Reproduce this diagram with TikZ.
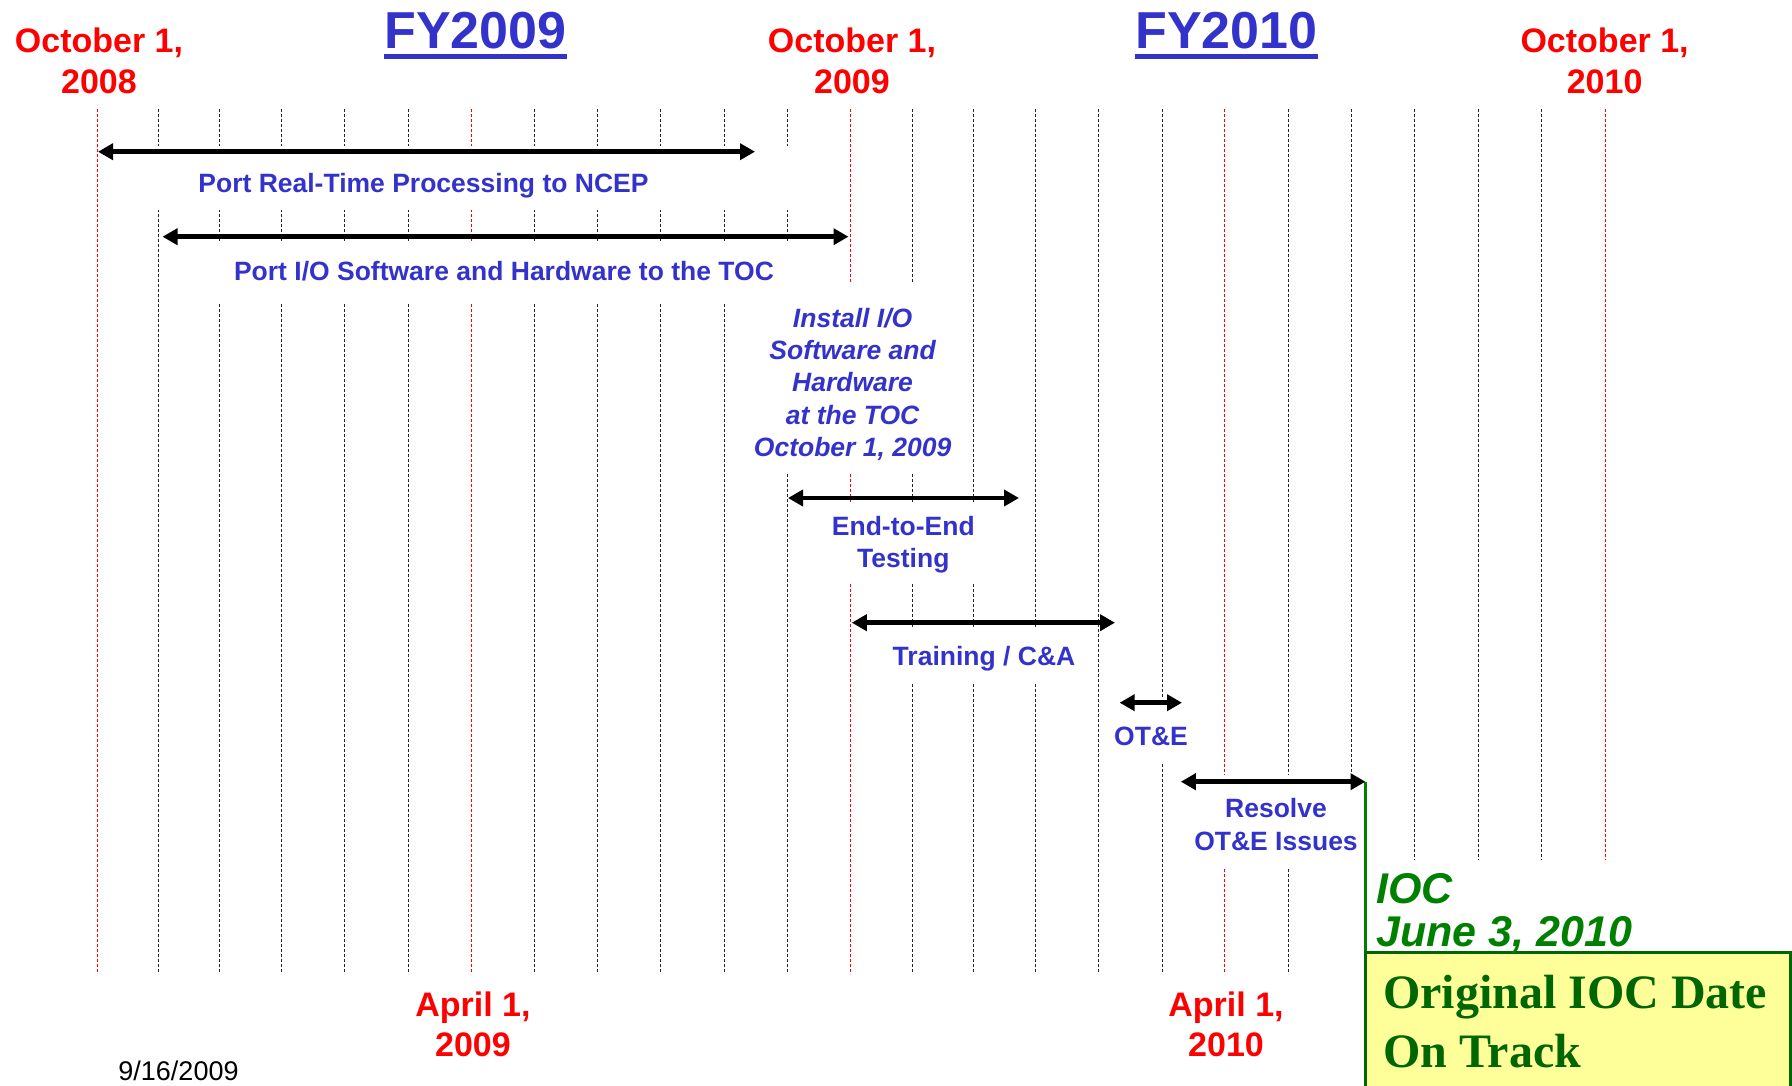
\documentclass[tikz,border=0pt]{standalone}
\usepackage{fontspec}
\setmainfont{Liberation Sans}
\newfontfamily\serifbold{Liberation Serif}
\usetikzlibrary{arrows.meta}
\definecolor{lblue}{RGB}{51,51,204}
\definecolor{iocgreen}{RGB}{0,128,0}
\definecolor{dkgreen}{RGB}{0,102,0}
\definecolor{boxyellow}{RGB}{255,255,153}
\begin{document}
\begin{tikzpicture}[x=1pt,y=-1pt,
  gridline/.style={line width=1pt, dash pattern=on 3pt off 2pt},
  span/.style={line width=4.5pt, arrows={Triangle[length=15pt,width=16pt]-Triangle[length=15pt,width=16pt]}},
  datelbl/.style={text=red, font=\fontsize{34}{41}\selectfont\bfseries, align=center, inner sep=0pt, anchor=north},
  fylbl/.style={text=lblue, font=\fontsize{52}{60}\selectfont\bfseries, inner sep=0pt, anchor=north},
  tasklbl/.style={text=lblue, font=\fontsize{26.5}{32.5}\selectfont\bfseries, align=center, inner sep=0pt, anchor=north},
  gapbox/.style={fill=white, draw=none}]
\clip (0,0) rectangle (1792,1085);
\fill[white] (0,0) rectangle (1792,1085);

% month grid (x positions of the first day of each month)
\foreach \xx in {158.4,219.9,281.3,344.4,408.2,534.4,597.6,660.7,724.5,787.8,912,973.7,1035,1098.7,1162,1288}
  \draw[gridline, black!85] (\xx,109) -- (\xx,974);
\foreach \xx in {97.6,471.3,850.8,1224.6}
  \draw[gridline, red] (\xx,109) -- (\xx,974);
\draw[gridline, black!85] (1351,109) -- (1351,782);
\foreach \xx in {1414.7,1478,1541}
  \draw[gridline, black!85] (\xx,109) -- (\xx,860);
\draw[gridline, red] (1605,109) -- (1605,860);

% white backgrounds of the task labels
\fill[gapbox] (130,146) rectangle (805,210);
\fill[gapbox] (190,241) rectangle (805,302);
\fill[gapbox] (760,283) rectangle (945,472);
\fill[gapbox] (820,504) rectangle (1005,583);
\fill[gapbox] (880,628) rectangle (1070,683);
\fill[gapbox] (1140,697) rectangle (1190,763);
\fill[gapbox] (1200,775) rectangle (1330,867);

% headers
\node[datelbl] (oct8) at (99,28) {October 1,\\2008};
\node[datelbl] (oct9) at (852,28) {October 1,\\2009};
\node[datelbl] (oct10) at (1604.6,28) {October 1,\\2010};
\node[fylbl] (fy9) at (475.5,11.5) {FY2009};
\node[fylbl] (fy10) at (1226.5,11.5) {FY2010};
\draw[lblue, line width=5pt] ([yshift=-8pt]fy9.base west) -- ([yshift=-8pt]fy9.base east);
\draw[lblue, line width=5pt] ([yshift=-8pt]fy10.base west) -- ([yshift=-8pt]fy10.base east);
\node[datelbl, font=\fontsize{34}{40}\selectfont\bfseries] (apr9) at (473,991.5) {April 1,\\2009};
\node[datelbl, font=\fontsize{34}{40}\selectfont\bfseries] (apr10) at (1226,991.5) {April 1,\\2010};
\node[font=\fontsize{27}{30}\selectfont, anchor=north, inner sep=0pt] (printdate) at (178.5,1061) {9/16/2009};

% task spans
\coordinate (a1s) at (98,151.7);    \coordinate (a1e) at (755,151.7);
\coordinate (a2s) at (162.5,236.7); \coordinate (a2e) at (848.5,236.7);
\coordinate (a3s) at (788,498);     \coordinate (a3e) at (1019,498);
\coordinate (a4s) at (851.8,622.7); \coordinate (a4e) at (1115,622.7);
\coordinate (a5s) at (1119.6,702.7);\coordinate (a5e) at (1182,702.7);
\coordinate (a6s) at (1180.8,781.7);\coordinate (a6e) at (1365.5,781.7);

% task labels
\node[tasklbl] (t1) at (423.5,173) {Port Real-Time Processing to NCEP};
\node[tasklbl] (t2) at (504,261.5) {Port I/O Software and Hardware to the TOC};
\node[tasklbl, font=\fontsize{26.5}{32.2}\selectfont\bfseries\itshape] (t3) at (852.6,308) {Install I/O\\Software and\\Hardware\\at the TOC\\October 1, 2009};
\node[tasklbl, font=\fontsize{26.5}{32}\selectfont\bfseries] (t4) at (903.3,516.5) {End-to-End\\Testing};
\node[tasklbl] (t5) at (984,646.5) {Training / C\&A};
\node[tasklbl] (t6) at (1151,726.5) {OT\&E};
\node[tasklbl, font=\fontsize{26.5}{33}\selectfont\bfseries] (t7) at (1276,798) {Resolve\\OT\&E Issues};

% IOC
\node[draw=dkgreen, line width=2.5pt, fill=boxyellow, anchor=north west, minimum width=425pt, minimum height=150pt, inner sep=0pt] (orig) at (1364,951) {};
\draw[iocgreen, line width=3pt] (a6e) -- (a6e |- orig.north);
\node[text=iocgreen, font=\fontsize{43}{43.5}\selectfont\bfseries\itshape, align=left, anchor=north west, inner sep=0pt] (ioc) at (1376,873) {IOC\\June 3, 2010};
\node[text=dkgreen, font=\serifbold\fontsize{48}{59}\selectfont\bfseries, align=left, anchor=north west, inner sep=0pt] (origtxt) at (1383,975) {Original IOC Date\\On Track};

\draw[span] (a1s) -- (a1e);
\draw[span] (a2s) -- (a2e);
\draw[span] (a3s) -- (a3e);
\draw[span] (a4s) -- (a4e);
\draw[span] (a5s) -- (a5e);
\draw[span] (a6s) -- (a6e);
\end{tikzpicture}
\end{document}
